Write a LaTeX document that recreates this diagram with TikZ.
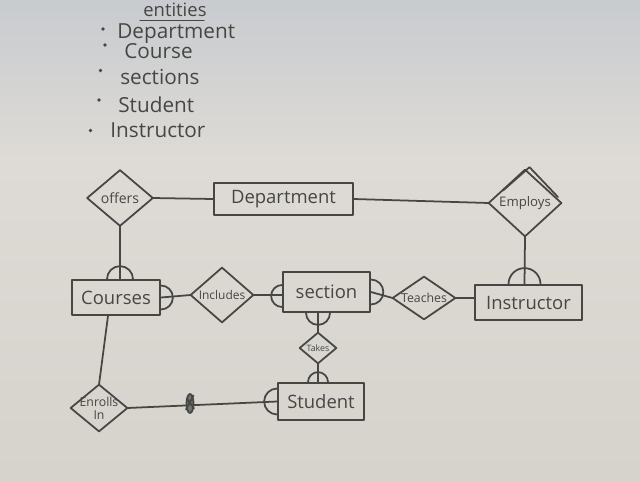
\documentclass[tikz,border=0pt]{standalone}
\usepackage{fontspec}
\setmainfont{Open Sans}
\usetikzlibrary{calc,shapes.geometric}
\definecolor{ink}{RGB}{70,70,68}
\definecolor{paperTop}{RGB}{200,203,207}
\definecolor{paperMid}{RGB}{222,219,214}
\definecolor{paperBot}{RGB}{214,210,204}
\newcommand\dmd[1]{\draw[inkline] (#1.north)--(#1.east)--(#1.south)--(#1.west)--cycle;}
\begin{document}
\begin{tikzpicture}[
  inkline/.style={draw=ink, line width=1pt, line cap=round, line join=round},
  entity/.style={inkline, inner sep=0pt, text=ink, font=\fontsize{10.5}{12}\selectfont},
  dia/.style 2 args={minimum width=#1, minimum height=#2, inner sep=0pt, text=ink},
  listtext/.style={anchor=west, inner sep=0pt, text=ink, font=\fontsize{11.8}{14}\selectfont},
  bullet/.style={circle, fill=ink, inner sep=0pt, minimum size=2.2pt}
]
\useasboundingbox (0,0) rectangle (12.8,9.6);
\clip (0,0) rectangle (12.8,9.6);
\shade[top color=paperTop, bottom color=paperMid] (0,6.4) rectangle (12.8,9.6);
\shade[top color=paperMid, bottom color=paperBot] (0,0) rectangle (12.8,6.4);

% entity list
\node[listtext, font=\fontsize{10.5}{12}\selectfont] (hdr) at (2.86,9.40) {entities};
\coordinate (ulA) at (2.80,9.19);
\coordinate (ulB) at (4.08,9.19);
\draw[inkline, line width=0.8pt] (ulA) -- (ulB);
\node[bullet] (b1) at (2.06,9.02) {};
\node[listtext] (l1) at (2.34,8.92) {Department};
\node[bullet] (b2) at (2.10,8.70) {};
\node[listtext] (l2) at (2.48,8.58) {Course};
\node[bullet] (b3) at (2.01,8.19) {};
\node[listtext] (l3) at (2.40,8.06) {sections};
\node[bullet] (b4) at (1.98,7.60) {};
\node[listtext] (l4) at (2.36,7.50) {Student};
\node[bullet] (b5) at (1.81,6.99) {};
\node[listtext] (l5) at (2.20,7.00) {Instructor};

% entities
\node[entity, draw, minimum width=2.78cm, minimum height=0.64cm] (dept) at (5.67,5.62) {Department};
\node[entity, draw, minimum width=2.14cm, minimum height=0.70cm] (instr) at (10.57,3.55) {Instructor};
\node[entity, draw, minimum width=1.74cm, minimum height=0.80cm] (sect) at (6.53,3.76) {section};
\node[entity, draw, minimum width=1.76cm, minimum height=0.70cm] (course) at (2.32,3.65) {Courses};
\node[entity, draw, minimum width=1.72cm, minimum height=0.74cm] (stud) at (6.42,1.57) {Student};

% relationships
\node[dia={1.30cm}{1.10cm}, font=\fontsize{8}{9}\selectfont] (offers) at (2.40,5.64) {offers};
\dmd{offers}
\node[dia={1.44cm}{1.32cm}, font=\fontsize{7.5}{9}\selectfont] (employs) at (10.50,5.54) {Employs};
\dmd{employs}
\draw[inkline] ($(employs.west)!0.3!(employs.north)+(0.07,0.05)$) -- ($(employs.north)+(0.09,0.05)$) -- ($(employs.north)!0.85!(employs.east)+(0.04,0.02)$);
\node[dia={1.24cm}{0.84cm}, font=\fontsize{7}{8}\selectfont] (teach) at (8.48,3.64) {Teaches};
\dmd{teach}
\node[dia={1.24cm}{1.08cm}, font=\fontsize{6.8}{8}\selectfont] (incl) at (4.44,3.70) {Includes};
\dmd{incl}
\node[dia={0.72cm}{0.60cm}, font=\fontsize{5}{6}\selectfont] (takes) at (6.36,2.64) {Takes};
\dmd{takes}
\node[dia={1.12cm}{0.92cm}, font=\fontsize{7}{7.5}\selectfont, align=center] (enroll) at (1.98,1.44) {Enrolls\\In};
\dmd{enroll}

% connectors
\draw[inkline] (offers.east) -- (dept.west);
\draw[inkline] (dept.east) -- (employs.west);
\draw[inkline] (employs.south) -- ([xshift=-0.08cm]instr.north);
\draw[inkline] ([xshift=-0.40cm]instr.north) arc[start angle=180, end angle=0, radius=0.32cm];
\draw[inkline] (teach.east) -- (instr.west |- teach.east);
\draw[inkline] ([yshift=0.25cm]sect.east) arc[start angle=90, end angle=-90, radius=0.25cm];
\draw[inkline] (sect.east) -- (teach.west);
\draw[inkline] (incl.east) -- (sect.west |- incl.east);
\draw[inkline] ([yshift=0.20cm]sect.west |- incl.east) arc[start angle=90, end angle=270, radius=0.22cm];
\draw[inkline] ([yshift=0.24cm]course.east) arc[start angle=90, end angle=-90, radius=0.24cm];
\draw[inkline] (course.east) -- (incl.west);
\draw[inkline] (offers.south) -- (course.north -| offers.south);
\draw[inkline] ([xshift=-0.26cm]course.north -| offers.south) arc[start angle=180, end angle=0, radius=0.26cm];
\draw[inkline] ([xshift=-0.16cm]course.south) -- (enroll.north);
\draw[inkline] ([xshift=-0.24cm]sect.south -| takes.north) arc[start angle=180, end angle=360, radius=0.24cm];
\draw[inkline] (sect.south -| takes.north) -- (takes.north);
\draw[inkline] (takes.south) -- (stud.north -| takes.south);
\draw[inkline] ([xshift=-0.20cm]stud.north -| takes.south) arc[start angle=180, end angle=0, radius=0.20cm];
\draw[inkline] (enroll.east) -- (stud.west);
\draw[inkline] ([yshift=0.26cm]stud.west) arc[start angle=90, end angle=270, radius=0.26cm];

% scribbled mark on Enrolls In line
\coordinate (mark) at (3.80,1.53);
\draw[inkline, fill=ink!75] (mark) ellipse[x radius=0.07cm, y radius=0.19cm];
\draw[inkline] ($(mark)+(-0.08,-0.12)$) -- ($(mark)+(0.07,0.16)$);
\draw[inkline] ($(mark)+(-0.06,0.10)$) -- ($(mark)+(0.08,-0.10)$);
\end{tikzpicture}
\end{document}
